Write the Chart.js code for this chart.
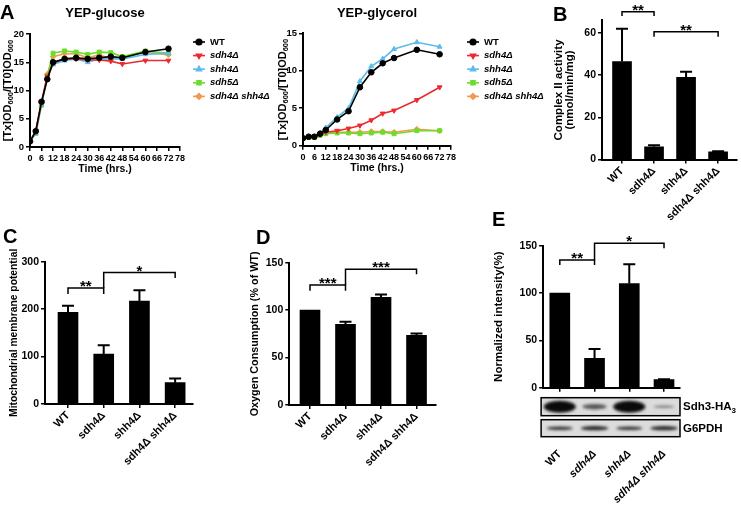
<!DOCTYPE html>
<html>
<head>
<meta charset="utf-8">
<script src="https://cdn.jsdelivr.net/npm/chart.js@4.4.1/dist/chart.umd.min.js"></script>
<style>
  html, body { margin: 0; padding: 0; background: #fff; }
  #page { position: relative; width: 741px; height: 515px; overflow: hidden;
          font-family: Arial, "Liberation Sans", Helvetica, sans-serif; color: #000; }
  canvas { position: absolute; }
  .letter { position: absolute; font-weight: bold; font-size: 20px; line-height: 20px; }
  .blot-label { position: absolute; font-weight: bold; font-size: 11.5px; line-height: 12px; white-space: nowrap; }
</style>
</head>
<body>
<div id="page">
  <canvas id="glucoseChart" width="290" height="185" style="left:0;top:0"></canvas>
  <canvas id="glycerolChart" width="290" height="185" style="left:260px;top:0"></canvas>
  <canvas id="complexChart" width="211" height="230" style="left:530px;top:0"></canvas>
  <canvas id="membraneChart" width="245" height="285" style="left:0;top:230px"></canvas>
  <canvas id="oxygenChart" width="240" height="285" style="left:245px;top:230px"></canvas>
  <canvas id="sdh3Chart" width="256" height="285" style="left:485px;top:230px"></canvas>

  <div class="letter" style="left:0;top:2px">A</div>
  <div class="letter" style="left:553px;top:4px">B</div>
  <div class="letter" style="left:3px;top:226px">C</div>
  <div class="letter" style="left:256px;top:227px">D</div>
  <div class="letter" style="left:492px;top:209px">E</div>
  <div class="blot-label" style="left:683px;top:400px">Sdh3-HA<sub style="font-size:8px">3</sub></div>
  <div class="blot-label" style="left:683px;top:422px">G6PDH</div>
</div>

<script>
const TIME_POINTS = [0, 3, 6, 9, 12, 18, 24, 30, 36, 42, 48, 60, 72];
const TIME_TICKS = [0, 6, 12, 18, 24, 30, 36, 42, 48, 54, 60, 66, 72, 78];
const STRAINS = ["WT", "sdh4Δ", "shh4Δ", "sdh5Δ", "sdh4Δ shh4Δ"];
const GROWTH_Y_TITLE = [["[Tx]OD", false], ["600", true], ["/[T0]OD", false], ["600", true]];

const glucoseWT     = [1.0, 2.8, 8.0, 12.0, 15.0, 15.6, 15.8, 15.6, 15.8, 16.0, 15.8, 16.8, 17.4];
const glucoseSdh4   = [1.0, 2.8, 8.0, 12.5, 14.8, 15.6, 15.6, 15.4, 15.4, 15.2, 14.7, 15.3, 15.3];
const glucoseShh4   = [1.0, 2.4, 7.6, 12.2, 14.6, 15.3, 15.6, 15.0, 15.6, 15.6, 15.6, 16.4, 16.6];
const glucoseSdh5   = [1.0, 2.4, 7.4, 12.6, 16.6, 17.0, 16.8, 16.4, 16.8, 16.7, 16.0, 17.0, 16.6];
const glucoseDouble = [1.0, 2.9, 7.8, 12.9, 16.0, 16.5, 16.5, 15.8, 16.3, 15.6, 15.8, 16.8, 16.3];

const glycerolWT     = [1.0, 1.2, 1.2, 1.6, 2.1, 3.5, 4.6, 7.8, 9.8, 11.0, 11.7, 12.8, 12.2];
const glycerolSdh4   = [1.0, 1.2, 1.2, 1.5, 1.8, 2.0, 2.3, 2.7, 3.4, 4.3, 4.7, 6.1, 7.8];
const glycerolShh4   = [1.0, 1.2, 1.2, 1.7, 2.4, 3.8, 5.0, 8.6, 10.6, 11.6, 12.9, 13.8, 13.2];
const glycerolSdh5   = [1.0, 1.1, 1.1, 1.4, 1.6, 1.7, 1.7, 1.6, 1.7, 1.8, 1.6, 2.0, 2.0];
const glycerolDouble = [1.0, 1.2, 1.2, 1.5, 1.7, 1.8, 1.8, 1.8, 1.9, 1.9, 1.8, 2.2, 2.0];

const GENOTYPES = ["WT", "sdh4Δ", "shh4Δ", "sdh4Δ shh4Δ"];
const complexIIMean = [46.5, 6.0, 39.0, 3.6];
const complexIIErr  = [15.5, 0.8, 2.6, 0.3];
const membraneMean  = [193, 105, 217, 45];
const membraneErr   = [14, 19, 23, 9];
const oxygenMean    = [100, 85, 113.5, 73.5];
const oxygenErr     = [0, 2.8, 3, 1.8];
const sdh3Mean      = [100, 31, 110, 8.5];
const sdh3Err       = [0, 10, 20.5, 0.5];
// relative band strength on the blots, one per lane
const sdh3Band  = [1.0, 0.45, 1.0, 0.2];
const g6pdhBand = [0.7, 0.8, 0.7, 0.8];

const STRAIN_STYLES = [
  { color: "#000000", point: "circle", rotation: 0 },
  { color: "#ec2a2e", point: "triangle", rotation: 180 },
  { color: "#5dbce9", point: "triangle", rotation: 0 },
  { color: "#6ddc2a", point: "rect", rotation: 0 },
  { color: "#f39a4e", point: "rectRot", rotation: 0 },
];

const FONT = 'Arial, "Liberation Sans", Helvetica, sans-serif';
Chart.defaults.font.family = FONT;
Chart.defaults.color = "#000";
Chart.defaults.animation = false;

const gridStyle = { display: true, drawOnChartArea: false, drawTicks: true, tickLength: 4, color: "#000", lineWidth: 1.5, offset: false };
const borderStyle = { display: true, color: "#000", width: 2 };

const strainKeyPlugin = {
  id: "strainKey",
  afterDraw(chart, args, opts) {
    const ctx = chart.ctx;
    chart.data.datasets.forEach((ds, i) => {
      const y = opts.y + i * opts.step;
      ctx.save();
      ctx.strokeStyle = ds.borderColor;
      ctx.fillStyle = ds.backgroundColor;
      ctx.lineWidth = 1.6;
      ctx.beginPath();
      ctx.moveTo(opts.x, y);
      ctx.lineTo(opts.x + 12, y);
      ctx.stroke();
      Chart.helpers.drawPoint(ctx, { pointStyle: ds.pointStyle, radius: 2.8, rotation: ds.pointRotation, borderWidth: 1 }, opts.x + 6, y);
      ctx.fillStyle = "#000";
      ctx.font = (i === 0 ? "bold " : "italic bold ") + "9.5px " + FONT;
      ctx.textBaseline = "middle";
      ctx.fillText(ds.label, opts.x + 17, y);
      ctx.restore();
    });
  },
};

// rotated y title with subscripts, centred on the plot area
const yCaptionPlugin = {
  id: "yCaption",
  afterDraw(chart, args, opts) {
    const ctx = chart.ctx;
    const area = chart.chartArea;
    const big = "bold 11px " + FONT;
    const small = "bold 7.5px " + FONT;
    ctx.save();
    const widths = opts.parts.map(([t, sub]) => {
      ctx.font = sub ? small : big;
      return ctx.measureText(t).width;
    });
    const total = widths.reduce((a, b) => a + b, 0);
    ctx.translate(opts.x, (area.top + area.bottom) / 2);
    ctx.rotate(-Math.PI / 2);
    ctx.fillStyle = "#000";
    ctx.textBaseline = "middle";
    let x = -total / 2;
    opts.parts.forEach(([t, sub], i) => {
      ctx.font = sub ? small : big;
      ctx.fillText(t, x, sub ? 3 : 0);
      x += widths[i];
    });
    ctx.restore();
  },
};

function makeGrowthChart(canvasId, title, series, box) {
  const datasets = series.map((values, i) => ({
    label: STRAINS[i],
    data: values.map((v, k) => ({ x: TIME_POINTS[k], y: v })),
    borderColor: STRAIN_STYLES[i].color,
    backgroundColor: STRAIN_STYLES[i].color,
    pointStyle: STRAIN_STYLES[i].point,
    pointRotation: STRAIN_STYLES[i].rotation,
    pointRadius: 2.8,
    pointBorderWidth: 1,
    borderWidth: 1.6,
    tension: 0,
  }));

  return new Chart(document.getElementById(canvasId), {
    type: "line",
    data: { datasets },
    options: {
      responsive: false,
      layout: { padding: box.padding },
      plugins: {
        legend: { display: false },
        tooltip: { enabled: false },
        title: {
          display: true, text: title, fullSize: false, color: "#000",
          font: { size: 13, weight: "bold" }, padding: box.titlePad,
        },
        strainKey: box.key,
        yCaption: { x: box.captionX, parts: GROWTH_Y_TITLE },
      },
      scales: {
        x: {
          type: "linear", min: 0, max: 78,
          afterBuildTicks: (s) => { s.ticks = TIME_TICKS.map((v) => ({ value: v })); },
          afterFit: (s) => { s.height = box.xh; },
          ticks: { autoSkip: false, maxRotation: 0, padding: 2, font: { size: 9, weight: "bold" } },
          title: { display: true, text: "Time (hrs.)", font: { size: 10.5, weight: "bold" }, padding: { top: 0, bottom: box.xTitleBottom } },
          grid: gridStyle, border: borderStyle,
        },
        y: {
          min: 0, max: box.yMax,
          afterBuildTicks: (s) => { s.ticks = box.yTicks.map((v) => ({ value: v })); },
          afterFit: (s) => { s.width = box.yw; },
          ticks: { padding: 2, font: { size: 9.5, weight: "bold" } },
          grid: gridStyle, border: borderStyle,
        },
      },
    },
    plugins: [strainKeyPlugin, yCaptionPlugin],
  });
}

const errorBarPlugin = {
  id: "errorCaps",
  afterDatasetsDraw(chart, args, opts) {
    const ctx = chart.ctx;
    const yScale = chart.scales.y;
    chart.data.datasets.forEach((ds, di) => {
      chart.getDatasetMeta(di).data.forEach((bar, i) => {
        const err = ds.errors[i];
        if (!err) return;
        const y0 = yScale.getPixelForValue(ds.data[i].y);
        const y1 = yScale.getPixelForValue(ds.data[i].y + err);
        ctx.save();
        ctx.strokeStyle = "#000";
        ctx.lineWidth = 2;
        ctx.beginPath();
        ctx.moveTo(bar.x, y0);
        ctx.lineTo(bar.x, y1);
        ctx.moveTo(bar.x - opts.cap, y1);
        ctx.lineTo(bar.x + opts.cap, y1);
        ctx.stroke();
        ctx.restore();
      });
    });
  },
};

const bracketPlugin = {
  id: "sigBrackets",
  afterDraw(chart, args, opts) {
    const ctx = chart.ctx;
    const xs = chart.scales.x;
    const ys = chart.scales.y;
    opts.items.forEach((b) => {
      const x0 = xs.getPixelForValue(b.from);
      const x1 = xs.getPixelForValue(b.to);
      const y = ys.getPixelForValue(b.level);
      ctx.save();
      ctx.strokeStyle = "#000";
      ctx.lineWidth = 1.5;
      ctx.beginPath();
      ctx.moveTo(x0, ys.getPixelForValue(b.legFrom));
      ctx.lineTo(x0, y);
      ctx.lineTo(x1, y);
      ctx.lineTo(x1, ys.getPixelForValue(b.legTo));
      ctx.stroke();
      ctx.fillStyle = "#000";
      ctx.font = "bold 15px " + FONT;
      ctx.textAlign = "center";
      ctx.textBaseline = "alphabetic";
      ctx.fillText(b.text, (x0 + x1) / 2, y + 3);
      ctx.restore();
    });
  },
};

const blotPlugin = {
  id: "blot",
  afterDraw(chart, args, opts) {
    const ctx = chart.ctx;
    const xs = chart.scales.x;
    const area = chart.chartArea;
    opts.rows.forEach((row) => {
      const top = area.bottom + row.top;
      const h = row.height;
      ctx.save();
      ctx.fillStyle = "#dcdcdc";
      ctx.fillRect(area.left - 2, top, area.right - area.left + 2, h);
      ctx.beginPath();
      ctx.rect(area.left - 2, top, area.right - area.left + 2, h);
      ctx.clip();
      ctx.filter = "blur(1.6px)";
      row.bands.forEach((s, i) => {
        const cx = xs.getPixelForValue(i);
        ctx.fillStyle = "rgba(10,10,10," + Math.min(1, 0.35 + 0.65 * s) + ")";
        ctx.beginPath();
        ctx.ellipse(cx, top + h / 2, row.bandW * (0.55 + 0.45 * s), row.bandH * s, 0, 0, Math.PI * 2);
        ctx.fill();
      });
      ctx.restore();
      ctx.save();
      ctx.strokeStyle = "#000";
      ctx.lineWidth = 1.5;
      ctx.strokeRect(area.left - 2, top, area.right - area.left + 2, h);
      ctx.restore();
    });
  },
};

function makeBarChart(canvasId, means, errors, cfg) {
  const extraPlugins = [errorBarPlugin, bracketPlugin];
  if (cfg.blot) extraPlugins.push(blotPlugin);
  return new Chart(document.getElementById(canvasId), {
    type: "bar",
    data: {
      datasets: [{
        data: means.map((v, i) => ({ x: i, y: v })),
        errors,
        backgroundColor: "#000",
        borderWidth: 0,
        barThickness: cfg.barWidth,
      }],
    },
    options: {
      responsive: false,
      layout: { padding: cfg.padding },
      plugins: {
        legend: { display: false },
        tooltip: { enabled: false },
        errorCaps: { cap: cfg.cap },
        sigBrackets: { items: cfg.brackets },
        blot: cfg.blot || { rows: [] },
      },
      scales: {
        x: {
          type: "linear", min: cfg.xMin, max: cfg.xMax, offset: false,
          afterBuildTicks: (s) => { s.ticks = GENOTYPES.map((_, i) => ({ value: i })); },
          afterFit: (s) => { s.height = cfg.xh; },
          ticks: {
            callback: (v) => GENOTYPES[v],
            autoSkip: false, minRotation: 45, maxRotation: 45, padding: cfg.labelPad,
            font: (c) => ({ size: 11, weight: "bold", style: cfg.italic && c.index > 0 ? "italic" : "normal" }),
          },
          grid: gridStyle, border: borderStyle,
        },
        y: {
          min: 0, max: cfg.yMax,
          afterBuildTicks: (s) => { s.ticks = cfg.yTicks.map((v) => ({ value: v })); },
          afterFit: (s) => { s.width = cfg.yw; },
          ticks: { padding: 2, font: { size: 10.5, weight: "bold" } },
          title: { display: true, text: cfg.yTitle, font: { size: cfg.yTitleSize || 11.5, weight: "bold", lineHeight: 1.0 }, padding: { top: cfg.yTitleTop, bottom: 0 } },
          grid: gridStyle, border: borderStyle,
        },
      },
    },
    plugins: extraPlugins,
  });
}

makeGrowthChart("glucoseChart", "YEP-glucose",
  [glucoseWT, glucoseSdh4, glucoseShh4, glucoseSdh5, glucoseDouble], {
    padding: { left: 0, right: 110, top: 0, bottom: 0 },
    titlePad: { top: 6, bottom: 12.4 },
    xh: 38, yw: 30, xTitleBottom: 10, captionX: 8,
    yMax: 20, yTicks: [0, 5, 10, 15, 20],
    key: { x: 193, y: 42, step: 13.6 },
  });

makeGrowthChart("glycerolChart", "YEP-glycerol",
  [glycerolWT, glycerolSdh4, glycerolShh4, glycerolSdh5, glycerolDouble], {
    padding: { left: 13, right: 99, top: 0, bottom: 0 },
    titlePad: { top: 6, bottom: 11.7 },
    xh: 39.3, yw: 30, xTitleBottom: 11, captionX: 23,
    yMax: 15, yTicks: [0, 5, 10, 15],
    key: { x: 207, y: 42, step: 13.6 },
  });

makeBarChart("complexChart", complexIIMean, complexIIErr, {
  padding: { left: 20, right: 4, top: 20.4, bottom: 0 },
  yw: 52, xh: 70.5, yTitleTop: 3,
  xMin: -0.625, xMax: 3.59, barWidth: 19, cap: 6, labelPad: 1,
  yMax: 66, yTicks: [0, 20, 40, 60],
  yTitle: ["Complex II activity", "(nmol/min/mg)"],
  brackets: [
    { from: 0, to: 1, level: 70.1, legFrom: 68.1, legTo: 68.1, text: "**" },
    { from: 1, to: 3, level: 60.6, legFrom: 58.3, legTo: 58.3, text: "**" },
  ],
});

makeBarChart("membraneChart", membraneMean, membraneErr, {
  padding: { left: 0, right: 52, top: 31.7, bottom: 0 },
  yw: 45, xh: 111, yTitleTop: 8.6, yTitleSize: 10.3,
  xMin: -0.644, xMax: 3.5, barWidth: 20, cap: 6, labelPad: 1,
  yMax: 300, yTicks: [0, 100, 200, 300],
  yTitle: "Mitochondrial membrane potential",
  brackets: [
    { from: 0, to: 1, level: 244.7, legFrom: 232, legTo: 232, text: "**" },
    { from: 1, to: 3, level: 277, legFrom: 244.7, legTo: 265.8, text: "*" },
  ],
});

makeBarChart("oxygenChart", oxygenMean, oxygenErr, {
  padding: { left: 0, right: 49.3, top: 32.7, bottom: 0 },
  yw: 44.3, xh: 110, yTitleTop: 4.2, yTitleSize: 10.8,
  xMin: -0.583, xMax: 3.54, barWidth: 20, cap: 6, labelPad: 1,
  yMax: 150, yTicks: [0, 50, 100, 150],
  yTitle: "Oxygen Consumption (% of WT)",
  brackets: [
    { from: 0, to: 1, level: 126.4, legFrom: 120.4, legTo: 120.4, text: "***" },
    { from: 1, to: 3, level: 143, legFrom: 126.4, legTo: 137.7, text: "***" },
  ],
});

makeBarChart("sdh3Chart", sdh3Mean, sdh3Err, {
  padding: { left: 0, right: 61, top: 15.7, bottom: 0 },
  yw: 55, xh: 127.3, yTitleTop: 4.8,
  xMin: -0.48, xMax: 3.46, barWidth: 20, cap: 6, labelPad: 56, italic: true,
  yMax: 150, yTicks: [0, 50, 100, 150],
  yTitle: "Normalized intensity(%)",
  brackets: [
    { from: 0, to: 1, level: 134.8, legFrom: 129.6, legTo: 129.6, text: "**" },
    { from: 1, to: 3, level: 152.5, legFrom: 134.8, legTo: 147.2, text: "*" },
  ],
  blot: {
    rows: [
      { top: 10, height: 18, bands: sdh3Band, bandW: 16, bandH: 6 },
      { top: 32, height: 17, bands: g6pdhBand, bandW: 15, bandH: 2.6 },
    ],
  },
});
</script>
</body>
</html>
